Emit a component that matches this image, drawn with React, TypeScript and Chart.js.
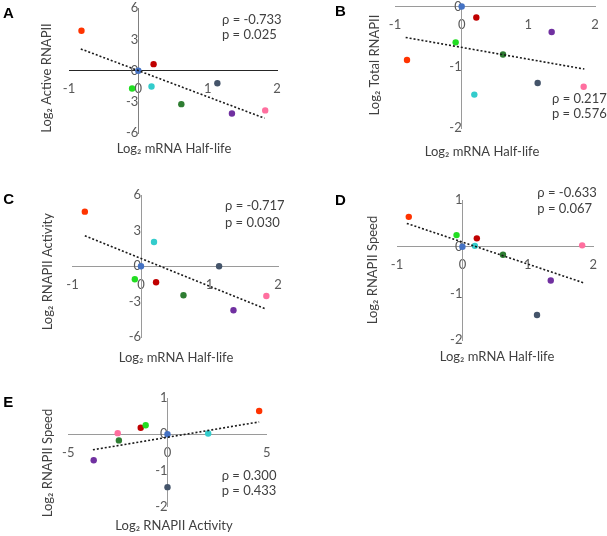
import React, { useEffect, useRef } from "react";
import { Chart, registerables } from "chart.js";

Chart.register(...registerables);

const W = 607;
const H = 536;
const FONT = "Lato, 'Open Sans', sans-serif";

// point order: orange, dark red, blue, lime, cyan, dark green, slate, purple, pink
const pointColors = ["#FF3300", "#C00000", "#4472C4", "#22DD22", "#33CCCC", "#2E7D32", "#44546A", "#7030A0", "#FF6F9F"];
const halfLife = [-0.82, 0.22, 0, -0.09, 0.19, 0.62, 1.14, 1.35, 1.83];
const activeRNAPII = [3.85, 0.64, 0, -1.7, -1.5, -3.2, -1.2, -4.1, -3.8];
const totalRNAPII = [-0.88, -0.18, 0, -0.59, -1.45, -0.79, -1.26, -0.42, -1.32];
const activity = [4.62, -1.35, 0, -1.1, 2.05, -2.45, 0, -3.72, -2.51];
const speed = [0.64, 0.18, 0, 0.25, 0.02, -0.17, -1.46, -0.72, 0.03];

const trendAX = [-0.83, 1.82];
const trendAY = [2.1, -4.55];
const trendBX = [-0.84, 1.84];
const trendBY = [-0.51, -1.03];
const trendCX = [-0.82, 1.82];
const trendCY = [2.59, -3.61];
const trendDX = [-0.85, 1.85];
const trendDY = [0.5, -0.77];
const trendEX = [-3.76, 4.62];
const trendEY = [-0.43, 0.34];

const statsRho = ["ρ = -0.733", "ρ = 0.217", "ρ = -0.717", "ρ = -0.633", "ρ = 0.300"];
const statsP = ["p = 0.025", "p = 0.576", "p = 0.030", "p = 0.067", "p = 0.433"];
const letters = ["A", "B", "C", "D", "E"];
const yTitles = ["Log₂ Active RNAPII", "Log₂ Total RNAPII", "Log₂ RNAPII Activity", "Log₂ RNAPII Speed", "Log₂ RNAPII Speed"];
const xTitles = ["Log₂ mRNA Half-life", "Log₂ mRNA Half-life", "Log₂ mRNA Half-life", "Log₂ mRNA Half-life", "Log₂ RNAPII Activity"];

type PanelDef = {
  idx: number;
  xs: number[];
  ys: number[];
  tx: number[];
  ty: number[];
  area: { l: number; r: number; t: number; b: number };
  xr: [number, number, number];
  yr: [number, number, number];
  xAxisColor: string;
  yAxisColor: string;
  letterPos: [number, number];
  yTitlePos: [number, number];
  xTitlePos: [number, number];
  statsPos: [number, number, number];
};

const panels: PanelDef[] = [
  {
    idx: 0, xs: halfLife, ys: activeRNAPII, tx: trendAX, ty: trendAY,
    area: { l: 69, r: 277, t: 8.3, b: 133.3 }, xr: [-1, 2, 1], yr: [-6, 6, 3],
    xAxisColor: "#262626", yAxisColor: "#808080",
    letterPos: [3, 17.5], yTitlePos: [47, 78], xTitlePos: [174, 149], statsPos: [222, 24, 39],
  },
  {
    idx: 1, xs: halfLife, ys: totalRNAPII, tx: trendBX, ty: trendBY,
    area: { l: 395, r: 595, t: 6.5, b: 128 }, xr: [-1, 2, 1], yr: [-2, 0, 1],
    xAxisColor: "#9a9a9a", yAxisColor: "#9a9a9a",
    letterPos: [335, 15.5], yTitlePos: [375, 65], xTitlePos: [482, 152], statsPos: [552, 102.7, 118.3],
  },
  {
    idx: 2, xs: halfLife, ys: activity, tx: trendCX, ty: trendCY,
    area: { l: 72.5, r: 278, t: 195.3, b: 337.3 }, xr: [-1, 2, 1], yr: [-6, 6, 3],
    xAxisColor: "#9a9a9a", yAxisColor: "#9a9a9a",
    letterPos: [3.3, 204], yTitlePos: [48.3, 271.7], xTitlePos: [176, 357.5], statsPos: [225, 210, 226.7],
  },
  {
    idx: 3, xs: halfLife, ys: speed, tx: trendDX, ty: trendDY,
    area: { l: 397, r: 593.3, t: 200, b: 340.3 }, xr: [-1, 2, 1], yr: [-2, 1, 1],
    xAxisColor: "#9a9a9a", yAxisColor: "#9a9a9a",
    letterPos: [335, 205], yTitlePos: [373.3, 270], xTitlePos: [497, 357], statsPos: [537.3, 196.7, 212.7],
  },
  {
    idx: 4, xs: activity, ys: speed, tx: trendEX, ty: trendEY,
    area: { l: 68.3, r: 266.7, t: 398, b: 506.7 }, xr: [-5, 5, 5], yr: [-2, 1, 1],
    xAxisColor: "#9a9a9a", yAxisColor: "#9a9a9a",
    letterPos: [3.3, 407.3], yTitlePos: [48, 463], xTitlePos: [174, 526], statsPos: [221.7, 480, 495],
  },
];

const zeroFit = (s: any) => {
  if (s.isHorizontal()) s.height = 0;
  else s.width = 0;
  s.paddingTop = 0;
  s.paddingBottom = 0;
  s.paddingLeft = 0;
  s.paddingRight = 0;
};

function drawTexts(chart: any, p: PanelDef) {
  const ctx = chart.ctx as CanvasRenderingContext2D;
  ctx.save();
  // panel letter
  ctx.fillStyle = "#000";
  ctx.font = "bold 15px 'Liberation Sans', Arial, sans-serif";
  ctx.textAlign = "left";
  ctx.textBaseline = "alphabetic";
  ctx.fillText(letters[p.idx], p.letterPos[0], p.letterPos[1]);
  // stats
  ctx.fillStyle = "#404040";
  ctx.font = `13px ${FONT}`;
  ctx.fillText(statsRho[p.idx], p.statsPos[0], p.statsPos[1]);
  ctx.fillText(statsP[p.idx], p.statsPos[0], p.statsPos[2]);
  // x title
  ctx.font = `13px ${FONT}`;
  ctx.textAlign = "center";
  ctx.textBaseline = "middle";
  ctx.fillText(xTitles[p.idx], p.xTitlePos[0], p.xTitlePos[1]);
  // y title
  ctx.translate(p.yTitlePos[0], p.yTitlePos[1]);
  ctx.rotate(-Math.PI / 2);
  ctx.fillText(yTitles[p.idx], 0, 0);
  ctx.restore();
}

function makeConfig(p: PanelDef): any {
  const tickFont = { family: FONT, size: 13 };
  return {
    type: "scatter",
    data: {
      datasets: [
        {
          type: "line",
          data: p.tx.map((x, i) => ({ x, y: p.ty[i] })),
          borderColor: "#1a1a1a",
          borderWidth: 1.6,
          borderDash: [2, 2],
          pointRadius: 0,
          fill: false,
          tension: 0,
        },
        {
          data: p.xs.map((x, i) => ({ x, y: p.ys[i] })),
          backgroundColor: pointColors,
          borderColor: pointColors,
          borderWidth: 0,
          pointRadius: 3.2,
        },
      ],
    },
    options: {
      responsive: false,
      animation: false,
      events: [],
      clip: false,
      layout: {
        padding: { left: p.area.l, top: p.area.t, right: W - p.area.r, bottom: H - p.area.b },
      },
      plugins: { legend: { display: false }, tooltip: { enabled: false }, title: { display: false } },
      scales: {
        x: {
          type: "linear",
          axis: "x",
          position: { y: 0 },
          min: p.xr[0],
          max: p.xr[1],
          afterFit: zeroFit,
          grid: { display: false, drawTicks: false },
          border: { display: true, color: p.xAxisColor, width: 1 },
          ticks: { stepSize: p.xr[2], padding: 10.5, color: "#595959", font: tickFont, maxRotation: 0, autoSkip: false },
        },
        y: {
          type: "linear",
          axis: "y",
          position: { x: 0 },
          min: p.yr[0],
          max: p.yr[1],
          afterFit: zeroFit,
          grid: { display: false, drawTicks: false },
          border: { display: true, color: p.yAxisColor, width: 1 },
          ticks: { stepSize: p.yr[2], padding: 12.5, color: "#595959", font: tickFont, autoSkip: false },
        },
      },
    },
    plugins: [{ id: "panelText" + p.idx, afterDraw: (c: any) => drawTexts(c, p) }],
  };
}

function PanelChart({ p }: { p: PanelDef }) {
  const ref = useRef<HTMLCanvasElement>(null);
  useEffect(() => {
    if (!ref.current) return;
    const chart = new Chart(ref.current, makeConfig(p));
    return () => chart.destroy();
  }, [p]);
  return (
    <canvas
      ref={ref}
      width={W}
      height={H}
      style={{ position: "absolute", left: 0, top: 0, width: W, height: H }}
    />
  );
}

export default function App() {
  return (
    <div style={{ position: "absolute", left: 0, top: 0, width: W, height: H, background: "#fff" }}>
      {panels.map((p) => (
        <PanelChart key={p.idx} p={p} />
      ))}
    </div>
  );
}
